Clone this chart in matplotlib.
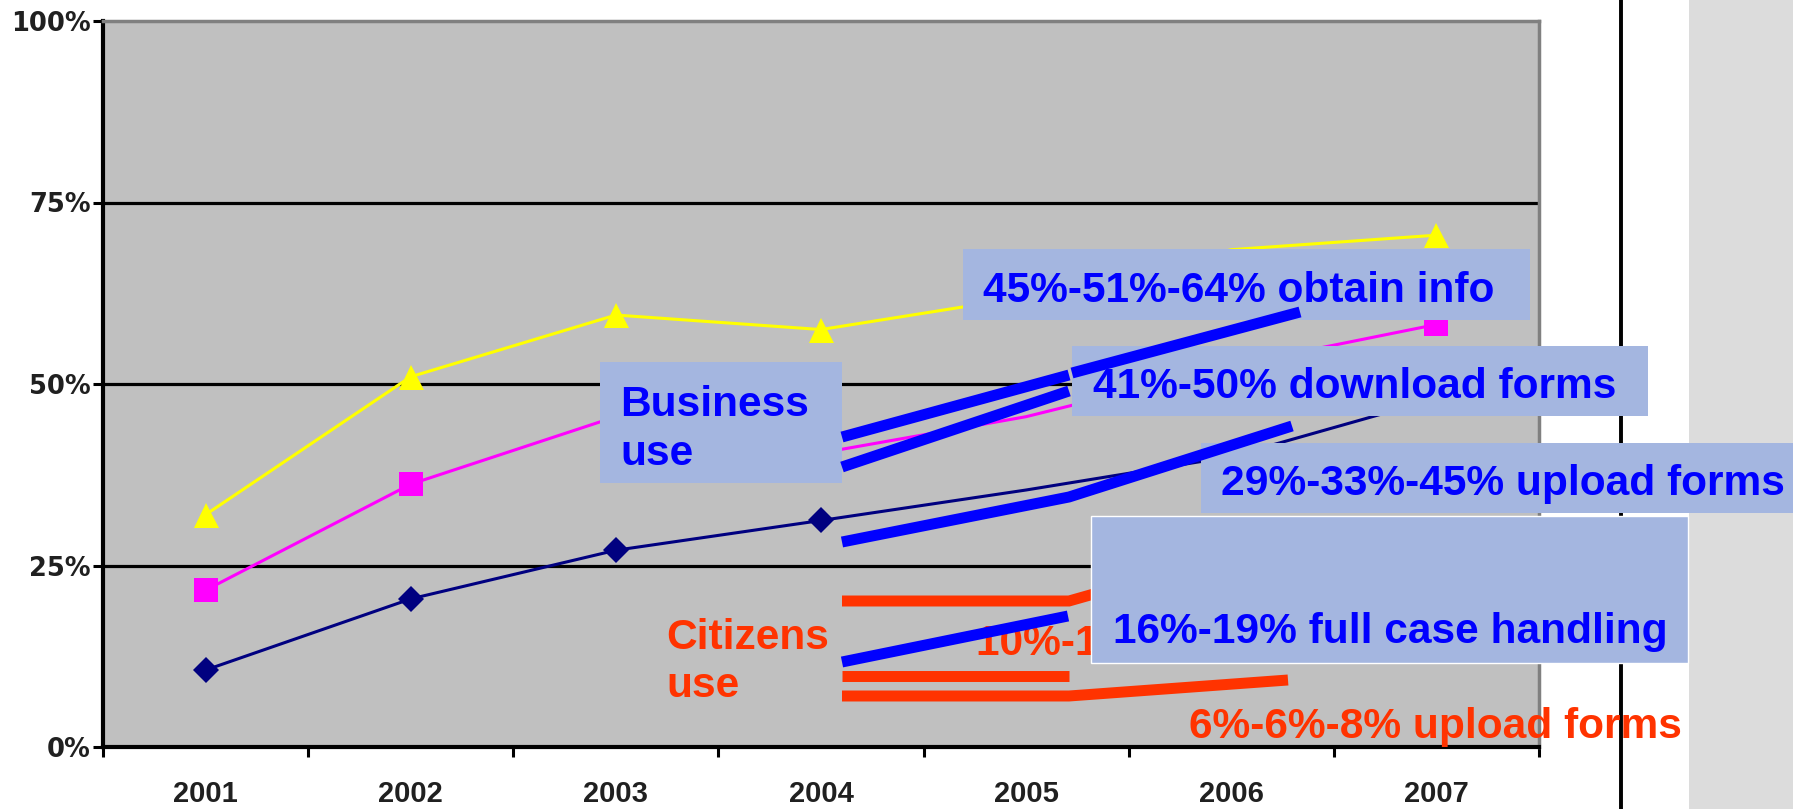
import numpy as np
import matplotlib
matplotlib.use("Agg")
import matplotlib.pyplot as plt
from matplotlib.patches import Rectangle

# ---- data -----------------------------------------------------------------
years = ["2001", "2002", "2003", "2004", "2005", "2006", "2007"]
series_top = [32.0, 51.0, 59.5, 57.5, 62.0, 68.5, 70.5]      # yellow triangles
series_mid = [21.6, 36.2, 45.5, 40.5, 45.5, 52.5, 58.2]      # magenta squares
series_low = [10.6, 20.4, 27.1, 31.2, 35.4, 40.0, 48.0]      # navy diamonds
marked = [0, 1, 2, 3, 6]                                      # years drawn with a marker
y_ticks = [0, 25, 50, 75, 100]
y_tick_labels = ["0%", "25%", "50%", "75%", "100%"]

# ---- figure / axes ----------------------------------------------------------
W, H = 1793, 809
fig = plt.figure(figsize=(W / 100, H / 100), dpi=100)
fig.patch.set_facecolor("white")

ax = fig.add_axes([103 / W, 1 - 747 / H, 1436 / W, 726 / H])
ax.set_facecolor("#c0c0c0")
x = np.arange(len(years))
ax.set_xlim(-0.5, len(years) - 0.5)
ax.set_ylim(0, 100)

for yv in y_ticks[1:-1]:
    ax.axhline(yv, color="black", lw=2.3, zorder=1)

ax.plot(x, series_top, color="#ffff00", lw=2.2, marker="^", ms=18,
        markevery=marked, markeredgewidth=0, zorder=3)
ax.plot(x, series_mid, color="#ff00ff", lw=2.2, marker="s", ms=17,
        markevery=marked, markeredgewidth=0, zorder=3)
ax.plot(x, series_low, color="#000080", lw=2.2, marker="D", ms=13,
        markevery=marked, markeredgewidth=0, zorder=3)

# spines
for side in ("left", "bottom"):
    ax.spines[side].set_color("black")
    ax.spines[side].set_linewidth(3.0)
for side in ("top", "right"):
    ax.spines[side].set_color("#808080")
    ax.spines[side].set_linewidth(2.5)

# y axis
ax.set_yticks(y_ticks)
ax.set_yticklabels(y_tick_labels, fontfamily="DejaVu Sans", fontweight="bold",
                   fontsize=18.5, color="#202020")
ax.tick_params(axis="y", length=7.2, width=2.2, pad=1.5, color="black")

# x axis: ticks on category boundaries, labels centred on categories
ax.set_xticks(np.arange(-0.5, len(years), 1.0))
ax.set_xticklabels([])
ax.tick_params(axis="x", which="major", length=7.2, width=2.2, color="black")
ax.set_xticks(x, minor=True)
ax.set_xticklabels(years, minor=True, fontfamily="Liberation Sans",
                   fontweight="bold", fontsize=21, color="#202020")
ax.tick_params(axis="x", which="minor", length=0, pad=24)

# ---- annotation layer in pixel coordinates -----------------------------------
ov = fig.add_axes([0, 0, 1, 1], zorder=5)
ov.set_xlim(0, W)
ov.set_ylim(H, 0)
ov.axis("off")

box_col = "#a4b6e0"
blue = "#0000ff"
orange = "#ff3300"
font = dict(fontfamily="Liberation Sans", fontweight="bold", fontsize=30.6)

# side panel and divider
ov.add_patch(Rectangle((1689, 0), W - 1689, H, color="#dcdcdc", lw=0, zorder=1))
ov.plot([1621, 1621], [0, H], color="black", lw=2.8, zorder=2,
        solid_capstyle="butt")

# connector strokes
lw_c = 7.9
blue_paths = [
    [(842, 437), (1069, 375)],
    [(1072, 373), (1300, 312)],
    [(842, 467), (1069, 391)],
    [(842, 542), (1069, 497), (1292, 426)],
    [(842, 662), (1068, 616)],
]
orange_paths = [
    [(842, 601), (1069, 601), (1150, 578)],
    [(842, 676), (1069, 676)],
    [(842, 696), (1069, 696), (1288, 680)],
]
for p in orange_paths:
    xs, ys = zip(*p)
    ov.plot(xs, ys, color=orange, lw=lw_c, solid_capstyle="butt",
            solid_joinstyle="miter", zorder=4)

# citizen label tucked under the case-handling box
hidden = ov.text(976, 655, "10%-13% download forms", color=orange,
                 va="baseline", ha="left", zorder=3, **font)
hidden.set_clip_path(Rectangle((900, 600), 191, 80, transform=ov.transData))

# boxes
ov.add_patch(Rectangle((963, 249), 567, 71, color=box_col, lw=0, zorder=5))
ov.add_patch(Rectangle((1072, 346), 576, 70, color=box_col, lw=0, zorder=5))
ov.add_patch(Rectangle((1201, 443), W - 1201, 70, color=box_col, lw=0, zorder=5))
ov.add_patch(Rectangle((1091, 516), 597, 147, facecolor=box_col,
                       edgecolor="white", lw=1.0, zorder=5))
ov.add_patch(Rectangle((600, 362), 242, 121, color=box_col, lw=0, zorder=5))

for p in blue_paths:
    xs, ys = zip(*p)
    ov.plot(xs, ys, color=blue, lw=lw_c, solid_capstyle="butt",
            solid_joinstyle="miter", zorder=6)

ov.text(983, 302, "45%-51%-64% obtain info", color=blue, va="baseline", zorder=7, **font)
ov.text(1093, 398, "41%-50% download forms", color=blue, va="baseline", zorder=7, **font)
ov.text(1221, 495, "29%-33%-45% upload forms", color=blue, va="baseline", zorder=7, **font)
ov.text(1113, 643, "16%-19% full case handling", color=blue, va="baseline", zorder=7, **font)
ov.text(620, 465, "Business\nuse", color=blue, va="baseline", ha="left",
        linespacing=1.3, zorder=7, **font)
ov.text(666, 697, "Citizens\nuse", color=orange, va="baseline", ha="left",
        linespacing=1.25, zorder=7, **font)
ov.text(1189, 738, "6%-6%-8% upload forms", color=orange, va="baseline", zorder=7, **font)

fig.savefig("out.png", dpi=100, facecolor="white")
